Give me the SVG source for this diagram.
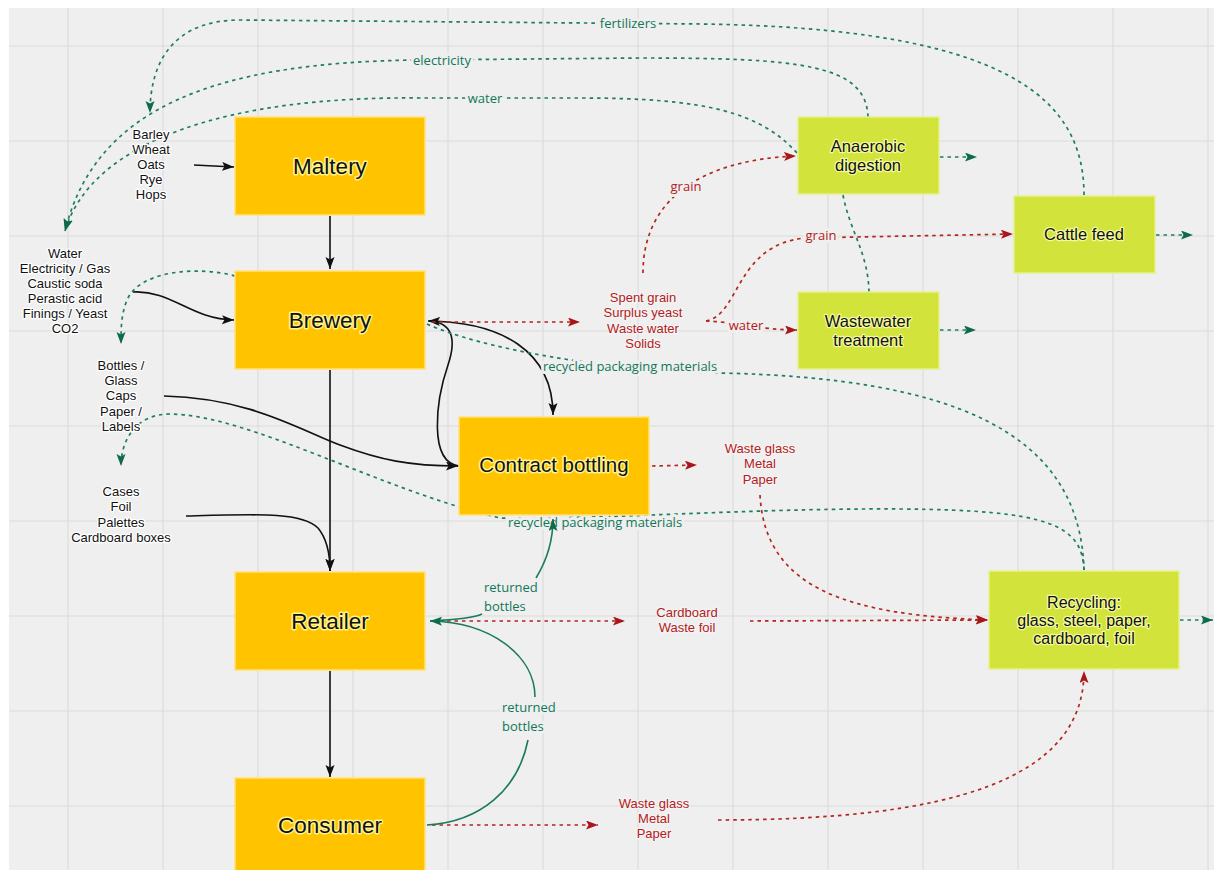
<svg xmlns="http://www.w3.org/2000/svg" width="1214" height="870" viewBox="0 0 1214 870">
  <defs>
    <style>
      .grid line { stroke: #dcdcdc; stroke-width: 1.2; }
      .box-main { fill: #ffc300; stroke: #ffe27a; stroke-width: 1.5; }
      .box-eco { fill: #d2e33c; stroke: #e6f28a; stroke-width: 1.5; }
      .t-main { font-family: "Liberation Sans", Arial, sans-serif; font-size: 22.5px; fill: #111; text-anchor: middle; stroke: #fff38a; stroke-width: 3; stroke-linejoin: round; paint-order: stroke; }
      .t-eco { font-family: "Liberation Sans", Arial, sans-serif; font-size: 16.5px; fill: #111; text-anchor: middle; stroke: #f3fa9c; stroke-width: 2.5; stroke-linejoin: round; paint-order: stroke; }
      .t-list { font-family: "Liberation Sans", Arial, sans-serif; font-size: 13px; fill: #111; text-anchor: middle; stroke: #ffffff; stroke-width: 2.5; stroke-linejoin: round; paint-order: stroke; }
      .t-waste { font-family: "Liberation Sans", Arial, sans-serif; font-size: 13px; fill: #b3201c; text-anchor: middle; stroke: #f4f4f4; stroke-width: 2.5; stroke-linejoin: round; paint-order: stroke; }
      .lbl-g { font-family: "Open Sans", "Noto Sans", sans-serif; font-size: 13px; fill: #11775a; stroke: #efefef; stroke-width: 6; stroke-linejoin: round; paint-order: stroke; }
      .lbl-r { font-family: "Open Sans", "Noto Sans", sans-serif; font-size: 13px; fill: #b3201c; stroke: #efefef; stroke-width: 6; stroke-linejoin: round; paint-order: stroke; }
      .flow { fill: none; stroke: #111; stroke-width: 1.6; }
      .flow-g { fill: none; stroke: #1a7a5e; stroke-width: 1.6; }
      .dash-g { fill: none; stroke: #1f7d60; stroke-width: 1.7; stroke-dasharray: 3.5 4; }
      .dash-r { fill: none; stroke: #b3261e; stroke-width: 1.7; stroke-dasharray: 3.5 4; }
    </style>
    <marker id="arr-k" markerUnits="userSpaceOnUse" markerWidth="13" markerHeight="10" refX="12" refY="4.5" orient="auto">
      <path d="M0,0 L12,4.5 L0,9 L2.5,4.5 z" fill="#111"/>
    </marker>
    <marker id="arr-g" markerUnits="userSpaceOnUse" markerWidth="13" markerHeight="10" refX="12" refY="4.5" orient="auto">
      <path d="M0,0 L12,4.5 L0,9 L2.5,4.5 z" fill="#0d6b4a"/>
    </marker>
    <marker id="arr-r" markerUnits="userSpaceOnUse" markerWidth="13" markerHeight="10" refX="12" refY="4.5" orient="auto">
      <path d="M0,0 L12,4.5 L0,9 L2.5,4.5 z" fill="#a8151a"/>
    </marker>
  </defs>

  <!-- canvas and grid -->
  <rect x="0" y="0" width="1214" height="870" fill="#ffffff"/>
  <rect x="9" y="8" width="1205" height="862" fill="#efefef"/>
  <g class="grid">
    <line x1="68" y1="8" x2="68" y2="870"/>
    <line x1="163" y1="8" x2="163" y2="870"/>
    <line x1="258" y1="8" x2="258" y2="870"/>
    <line x1="353" y1="8" x2="353" y2="870"/>
    <line x1="448" y1="8" x2="448" y2="870"/>
    <line x1="543" y1="8" x2="543" y2="870"/>
    <line x1="638" y1="8" x2="638" y2="870"/>
    <line x1="733" y1="8" x2="733" y2="870"/>
    <line x1="828" y1="8" x2="828" y2="870"/>
    <line x1="923" y1="8" x2="923" y2="870"/>
    <line x1="1018" y1="8" x2="1018" y2="870"/>
    <line x1="1113" y1="8" x2="1113" y2="870"/>
    <line x1="1208" y1="8" x2="1208" y2="870"/>
    <line x1="9" y1="46" x2="1214" y2="46"/>
    <line x1="9" y1="141" x2="1214" y2="141"/>
    <line x1="9" y1="236" x2="1214" y2="236"/>
    <line x1="9" y1="331" x2="1214" y2="331"/>
    <line x1="9" y1="426" x2="1214" y2="426"/>
    <line x1="9" y1="521" x2="1214" y2="521"/>
    <line x1="9" y1="616" x2="1214" y2="616"/>
    <line x1="9" y1="711" x2="1214" y2="711"/>
    <line x1="9" y1="806" x2="1214" y2="806"/>
  </g>

  <!-- connectors -->
  <g id="connectors">
    <!-- main product chain -->
    <path class="flow" d="M194 165 L234 167" marker-end="url(#arr-k)"/>
    <path class="flow" d="M330 216 L330 269" marker-end="url(#arr-k)"/>
    <path class="flow" d="M133 292 C172 290 190 319 234 320" marker-end="url(#arr-k)"/>
    <path class="flow" d="M330 370 L330 571" marker-end="url(#arr-k)"/>
    <path class="flow" d="M164 396 C250 398 300 430 340 445 C380 460 410 466 458 466" marker-end="url(#arr-k)"/>
    <path class="flow" d="M186 516 C260 514 302 512 318 528 C328 540 330 555 330 571" marker-end="url(#arr-k)"/>
    <path class="flow" d="M330 671 L330 777" marker-end="url(#arr-k)"/>
    <path class="flow" d="M429 321 C500 322 553 350 553 415" marker-end="url(#arr-k)"/>
    <path class="flow" d="M459 466 C428 462 436 400 448 365 C457 338 452 322 428 321" marker-end="url(#arr-k)"/>

    <!-- utilities returned from the eco loop -->
    <path class="dash-g" d="M1084 195 C1084 100 1010 28 700 24 L240 20 C175 20 150 60 150 113" marker-end="url(#arr-g)"/>
    <path class="dash-g" d="M868 117 C866 64 800 58 640 58 L420 60 C210 62 95 110 65 231" marker-end="url(#arr-g)"/>
    <path class="dash-g" d="M797 153 C760 112 705 98 580 98 L420 98 C230 96 92 140 65 231" marker-end="url(#arr-g)"/>
    <path class="dash-g" d="M843 195 C850 232 868 252 869 292"/>

    <!-- recycled packaging back to the inputs -->
    <path class="dash-g" d="M235 276 C200 266 142 270 128 298 C121 313 121 328 121 344" marker-end="url(#arr-g)"/>
    <path class="dash-g" d="M427 324 C480 348 600 370 720 373 C950 378 1080 430 1084 570"/>
    <path class="dash-g" d="M1084 570 C1082 525 1050 510 900 509 C750 508 600 520 500 518 C380 490 250 415 170 414 C136 414 121 440 121 466" marker-end="url(#arr-g)"/>

    <!-- outputs of the eco nodes -->
    <path class="dash-g" d="M940 157 L977 157" marker-end="url(#arr-g)"/>
    <path class="dash-g" d="M1156 235 L1193 235" marker-end="url(#arr-g)"/>
    <path class="dash-g" d="M940 330 L976 330" marker-end="url(#arr-g)"/>
    <path class="dash-g" d="M1180 620 L1213 620" marker-end="url(#arr-g)"/>

    <!-- waste streams -->
    <path class="dash-r" d="M432 322 L580 322" marker-end="url(#arr-r)"/>
    <path class="dash-r" d="M643 273 C643 200 700 160 796 156" marker-end="url(#arr-r)"/>
    <path class="dash-r" d="M706 321 C740 315 735 245 805 238 L1013 234" marker-end="url(#arr-r)"/>
    <path class="dash-r" d="M706 321 C728 321 760 330 797 330" marker-end="url(#arr-r)"/>
    <path class="dash-r" d="M652 466 L697 465" marker-end="url(#arr-r)"/>
    <path class="dash-r" d="M760 495 C765 590 850 615 988 620" marker-end="url(#arr-r)"/>
    <path class="dash-r" d="M432 621 L625 621" marker-end="url(#arr-r)"/>
    <path class="dash-r" d="M750 621 L988 620" marker-end="url(#arr-r)"/>
    <path class="dash-r" d="M432 825 L598 825" marker-end="url(#arr-r)"/>
    <path class="dash-r" d="M718 820 C950 820 1084 780 1084 671" marker-end="url(#arr-r)"/>

    <!-- flow labels -->
    <text class="lbl-g" x="628" y="28" text-anchor="middle">fertilizers</text>
    <text class="lbl-g" x="442" y="65" text-anchor="middle">electricity</text>
    <text class="lbl-g" x="485" y="103" text-anchor="middle">water</text>
    <text class="lbl-r" x="686" y="191" text-anchor="middle">grain</text>
    <text class="lbl-r" x="821" y="240" text-anchor="middle">grain</text>
    <text class="lbl-r" x="746" y="330" text-anchor="middle">water</text>
    <text class="lbl-g" x="630" y="371" text-anchor="middle">recycled packaging materials</text>
    <text class="lbl-g" x="595" y="527" text-anchor="middle">recycled packaging materials</text>
    <text class="lbl-g" x="484" y="592">returned</text>
    <text class="lbl-g" x="484" y="611">bottles</text>
    <text class="lbl-g" x="502" y="712">returned</text>
    <text class="lbl-g" x="502" y="731">bottles</text>

    <!-- returned bottles -->
    <path class="flow-g" d="M430 621 C470 619 478 616 482 614 M536 578 C547 560 553 540 553 519" marker-end="url(#arr-g)"/>
    <path class="flow-g" d="M427 825 C480 822 518 790 528 740 M535 697 C535 655 490 622 430 621" marker-end="url(#arr-g)"/>
  </g>

  <!-- input and waste lists -->
  <g id="inputs-grain">
    <text class="t-list" x="151" y="139">Barley</text>
    <text class="t-list" x="151" y="154">Wheat</text>
    <text class="t-list" x="151" y="169">Oats</text>
    <text class="t-list" x="151" y="184">Rye</text>
    <text class="t-list" x="151" y="199">Hops</text>
  </g>
  <g id="inputs-utilities">
    <text class="t-list" x="65" y="258">Water</text>
    <text class="t-list" x="65" y="273">Electricity / Gas</text>
    <text class="t-list" x="65" y="288">Caustic soda</text>
    <text class="t-list" x="65" y="303">Perastic acid</text>
    <text class="t-list" x="65" y="318">Finings / Yeast</text>
    <text class="t-list" x="65" y="333">CO2</text>
  </g>
  <g id="inputs-bottles">
    <text class="t-list" x="121" y="370">Bottles /</text>
    <text class="t-list" x="121" y="385">Glass</text>
    <text class="t-list" x="121" y="400">Caps</text>
    <text class="t-list" x="121" y="416">Paper /</text>
    <text class="t-list" x="121" y="431">Labels</text>
  </g>
  <g id="inputs-packaging">
    <text class="t-list" x="121" y="496">Cases</text>
    <text class="t-list" x="121" y="511">Foil</text>
    <text class="t-list" x="121" y="527">Palettes</text>
    <text class="t-list" x="121" y="542">Cardboard boxes</text>
  </g>
  <g id="waste-brewery">
    <text class="t-waste" x="643" y="302">Spent grain</text>
    <text class="t-waste" x="643" y="317">Surplus yeast</text>
    <text class="t-waste" x="643" y="333">Waste water</text>
    <text class="t-waste" x="643" y="348">Solids</text>
  </g>
  <g id="waste-bottling">
    <text class="t-waste" x="760" y="453">Waste glass</text>
    <text class="t-waste" x="760" y="468">Metal</text>
    <text class="t-waste" x="760" y="484">Paper</text>
  </g>
  <g id="waste-retailer">
    <text class="t-waste" x="687" y="617">Cardboard</text>
    <text class="t-waste" x="687" y="632">Waste foil</text>
  </g>
  <g id="waste-consumer">
    <text class="t-waste" x="654" y="808">Waste glass</text>
    <text class="t-waste" x="654" y="823">Metal</text>
    <text class="t-waste" x="654" y="838">Paper</text>
  </g>

  <!-- process nodes -->
  <g id="maltery">
    <rect class="box-main" x="235" y="117" width="190" height="98"/>
    <text class="t-main" x="330" y="174">Maltery</text>
  </g>
  <g id="brewery">
    <rect class="box-main" x="235" y="271" width="190" height="98"/>
    <text class="t-main" x="330" y="328">Brewery</text>
  </g>
  <g id="contract-bottling">
    <rect class="box-main" x="459" y="417" width="190" height="98"/>
    <text class="t-main" x="554" y="472" style="font-size:20.5px">Contract bottling</text>
  </g>
  <g id="retailer">
    <rect class="box-main" x="235" y="572" width="190" height="98"/>
    <text class="t-main" x="330" y="629">Retailer</text>
  </g>
  <g id="consumer">
    <rect class="box-main" x="235" y="778" width="190" height="100"/>
    <text class="t-main" x="330" y="833">Consumer</text>
  </g>
  <g id="anaerobic-digestion">
    <rect class="box-eco" x="798" y="117" width="141" height="77"/>
    <text class="t-eco" x="868" y="152">Anaerobic</text>
    <text class="t-eco" x="868" y="171">digestion</text>
  </g>
  <g id="cattle-feed">
    <rect class="box-eco" x="1014" y="196" width="141" height="77"/>
    <text class="t-eco" x="1084" y="240">Cattle feed</text>
  </g>
  <g id="wastewater-treatment">
    <rect class="box-eco" x="798" y="292" width="141" height="77"/>
    <text class="t-eco" x="868" y="327">Wastewater</text>
    <text class="t-eco" x="868" y="346">treatment</text>
  </g>
  <g id="recycling">
    <rect class="box-eco" x="989" y="571" width="190" height="98"/>
    <text class="t-eco" x="1084" y="608" style="font-size:16px">Recycling:</text>
    <text class="t-eco" x="1084" y="626" style="font-size:16px">glass, steel, paper,</text>
    <text class="t-eco" x="1084" y="644" style="font-size:16px">cardboard, foil</text>
  </g>
</svg>
